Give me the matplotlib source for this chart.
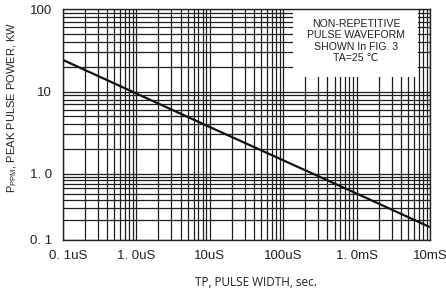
import numpy as np
import matplotlib
matplotlib.use('Agg')
import matplotlib.pyplot as plt
from matplotlib.ticker import FixedLocator, FixedFormatter, NullFormatter
from matplotlib.patches import Rectangle
import matplotlib.transforms as mtransforms

# ---- data ----
pulse_width_s = [1e-7, 1e-6, 1e-5, 1e-4, 1e-3, 1e-2]
peak_power_kw = [24.2, 9.5, 3.7, 1.45, 0.50, 0.156]

x_tick_values = [1e-7, 1e-6, 1e-5, 1e-4, 1e-3, 1e-2]
x_tick_labels = ["0. 1uS", "1. 0uS", "10uS", "100uS", "1. 0mS", "10mS"]
y_tick_values = [0.1, 1, 10, 100]
y_tick_labels = ["0. 1", "1. 0", "10", "100"]
note_lines = ["NON-REPETITIVE", "PULSE WAVEFORM", "SHOWN In FIG. 3", "TA=25 \u2103"]

# ---- vertical scale: log decades as drawn in the reference (uneven decade heights) ----
decade_logs = np.array([-1.0, 0.0, 1.0, 2.0])
decade_pos = np.array([0.0, 66.5, 148.3, 231.0])


def fwd(y):
    y = np.clip(np.asarray(y, dtype=float), 1e-12, None)
    return np.interp(np.log10(y), decade_logs, decade_pos)


def inv(p):
    p = np.asarray(p, dtype=float)
    return 10 ** np.interp(p, decade_pos, decade_logs)


fig = plt.figure(figsize=(4.46, 3.0), dpi=100)
ax = fig.add_axes([63 / 446, 60 / 300, 367 / 446, 231 / 300])

ax.set_xscale('log')
ax.set_yscale('function', functions=(fwd, inv))
ax.set_xlim(1e-7, 1e-2)
ax.set_ylim(0.1, 100)

font = ['Liberation Sans', 'DejaVu Sans']

ax.plot(pulse_width_s, peak_power_kw, color='#111111', lw=1.6, zorder=3,
        solid_capstyle='butt')

# ticks / grid
ax.xaxis.set_major_locator(FixedLocator(x_tick_values))
ax.xaxis.set_major_formatter(FixedFormatter(x_tick_labels))
xminor = [m * 10.0 ** e for e in range(-7, -2) for m in range(2, 10)]
ax.xaxis.set_minor_locator(FixedLocator(xminor))
ax.xaxis.set_minor_formatter(NullFormatter())

ax.yaxis.set_major_locator(FixedLocator(y_tick_values))
ax.yaxis.set_major_formatter(FixedFormatter(y_tick_labels))
yminor = [m * 10.0 ** e for e in range(-1, 2) for m in range(2, 10)]
ax.yaxis.set_minor_locator(FixedLocator(yminor))
ax.yaxis.set_minor_formatter(NullFormatter())

ax.set_axisbelow(True)
ax.grid(which='both', color='#1e1e1e', lw=0.9)
ax.tick_params(which='both', length=0)
ax.tick_params(axis='y', pad=8)
ax.tick_params(axis='x', pad=7.5)
for lab in ax.get_xticklabels() + ax.get_yticklabels():
    lab.set_fontfamily(font)
    lab.set_fontsize(9.5)
    lab.set_color('#222222')

# first x label sits slightly right of its gridline in the reference
first = ax.get_xticklabels()[0]
first.set_transform(first.get_transform() +
                    mtransforms.ScaledTranslation(5 / 100, 0, fig.dpi_scale_trans))

for s in ax.spines.values():
    s.set_color('#222222')
    s.set_linewidth(1.0)

# note box
ax.add_patch(Rectangle(((293 - 63) / 367, (240 - 77) / 231),
                       (418 - 293) / 367, 77 / 231,
                       transform=ax.transAxes, facecolor='white',
                       edgecolor='none', zorder=1))
note_y = [24, 35, 46.7, 58.3]
for txt, yp in zip(note_lines, note_y):
    ax.text((356 - 63) / 367, (240 - yp) / 231, txt, transform=ax.transAxes,
            ha='center', va='center', fontsize=7.6, family=font,
            color='#222222', zorder=4)

# axis titles
fig.text(256 / 446, 1 - 282 / 300, "TP, PULSE WIDTH, sec.", ha='center',
         va='center', fontsize=8.5, family=['Open Sans', 'DejaVu Sans'],
         color='#222222')
fig.text(12.5 / 446, 1 - 107 / 300,
         r"$\mathregular{P_{PPM}}$, PEAK PULSE POWER, KW",
         rotation=90, ha='center', va='center', fontsize=8,
         family=font, color='#222222')

fig.savefig('out.png', dpi=100)
